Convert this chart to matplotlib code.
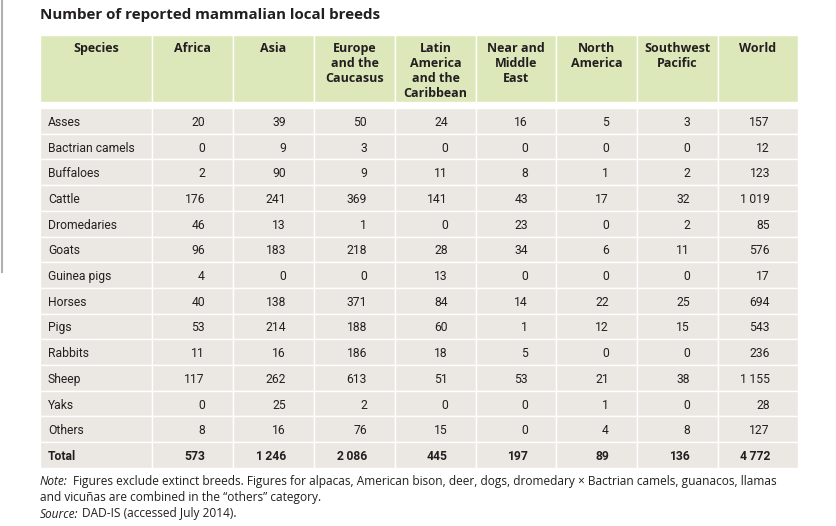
import matplotlib.pyplot as plt
from matplotlib.patches import Rectangle

# table data
species = ["Asses", "Bactrian camels", "Buffaloes", "Cattle", "Dromedaries", "Goats",
           "Guinea pigs", "Horses", "Pigs", "Rabbits", "Sheep", "Yaks", "Others"]
headers = ["Species", "Africa", "Asia", "Europe\nand the\nCaucasus",
           "Latin\nAmerica\nand the\nCaribbean", "Near and\nMiddle\nEast",
           "North\nAmerica", "Southwest\nPacific", "World"]
africa = [20, 0, 2, 176, 46, 96, 4, 40, 53, 11, 117, 0, 8]
asia = [39, 9, 90, 241, 13, 183, 0, 138, 214, 16, 262, 25, 16]
europe = [50, 3, 9, 369, 1, 218, 0, 371, 188, 186, 613, 2, 76]
latin = [24, 0, 11, 141, 0, 28, 13, 84, 60, 18, 51, 0, 15]
near_east = [16, 0, 8, 43, 23, 34, 0, 14, 1, 5, 53, 0, 0]
north_am = [5, 0, 1, 17, 0, 6, 0, 22, 12, 0, 21, 1, 4]
sw_pacific = [3, 0, 2, 32, 2, 11, 0, 25, 15, 0, 38, 0, 8]
world = [157, 12, 123, 1019, 85, 576, 17, 694, 543, 236, 1155, 28, 127]
totals = [573, 1246, 2086, 445, 197, 89, 136, 4772]

title = "Number of reported mammalian local breeds"

columns = [africa, asia, europe, latin, near_east, north_am, sw_pacific, world]

HEAD_BG = "#dde8ba"
BODY_BG = "#ebe7e3"
TXT = "#231f20"

fam = ["Open Sans", "DejaVu Sans"]
narrow = ["Liberation Sans Narrow", "Roboto", "DejaVu Sans"]


def fmt(v):
    s = f"{v:,}"
    return s.replace(",", "\u2009")


fig = plt.figure(figsize=(8.36, 5.26), dpi=100)
ax = fig.add_axes([0, 0, 1, 1])
ax.set_xlim(0, 836)
ax.set_ylim(526, 0)
ax.axis("off")

# grey rule on the left edge
ax.plot([2, 2], [0, 272], color="#b0b0b0", lw=1.5)

ax.text(40, 14.5, title, fontsize=10.9, fontweight="bold", family=fam,
        color=TXT, va="center", ha="left")

col_edges = [40, 152, 233, 314, 395, 476, 556, 637, 718, 798]
head_top, head_bot = 35, 102
body_top, row_h = 108, 25.7

# header
for i in range(len(headers)):
    x0, x1 = col_edges[i], col_edges[i + 1]
    ax.add_patch(Rectangle((x0, head_top), x1 - x0, head_bot - head_top,
                           facecolor=HEAD_BG, edgecolor="white", lw=1))
    ax.text((x0 + x1) / 2, 42, headers[i], fontsize=9, fontweight="bold",
            family=fam, color=TXT, ha="center", va="top", linespacing=1.2)

# body rows
n_rows = len(species) + 1
for r in range(n_rows):
    y0 = body_top + r * row_h
    yc = y0 + row_h / 2 + 1.5
    is_total = r == len(species)
    weight = "bold" if is_total else "normal"
    for i in range(len(headers)):
        x0, x1 = col_edges[i], col_edges[i + 1]
        ax.add_patch(Rectangle((x0, y0), x1 - x0, row_h,
                               facecolor=BODY_BG, edgecolor="white", lw=1))
    label = "Total" if is_total else species[r]
    ax.text(48, yc, label, fontsize=8.7, fontweight=weight, family=narrow,
            color=TXT, ha="left", va="center")
    for i, col in enumerate(columns):
        v = totals[i] if is_total else col[r]
        ax.text(col_edges[i + 2] - 28, yc, fmt(v), fontsize=8.7, fontweight=weight,
                family=narrow, color=TXT, ha="right", va="center")

# notes
ax.text(40, 481.5, "Note:", fontsize=8.6, style="italic", family=fam, color=TXT,
        va="center")
ax.text(73, 481.5, "Figures exclude extinct breeds. Figures for alpacas, American bison, deer, dogs, "
        "dromedary \u00d7 Bactrian camels, guanacos, llamas",
        fontsize=8.6, family=fam, color=TXT, va="center")
ax.text(40, 497.5, "and vicu\u00f1as are combined in the \u201cothers\u201d category.",
        fontsize=8.6, family=fam, color=TXT, va="center")
ax.text(40, 514, "Source:", fontsize=8.6, style="italic", family=fam, color=TXT,
        va="center")
ax.text(82, 514, "DAD-IS (accessed July 2014).", fontsize=8.6, family=fam,
        color=TXT, va="center")

fig.savefig("out.png", dpi=100)
